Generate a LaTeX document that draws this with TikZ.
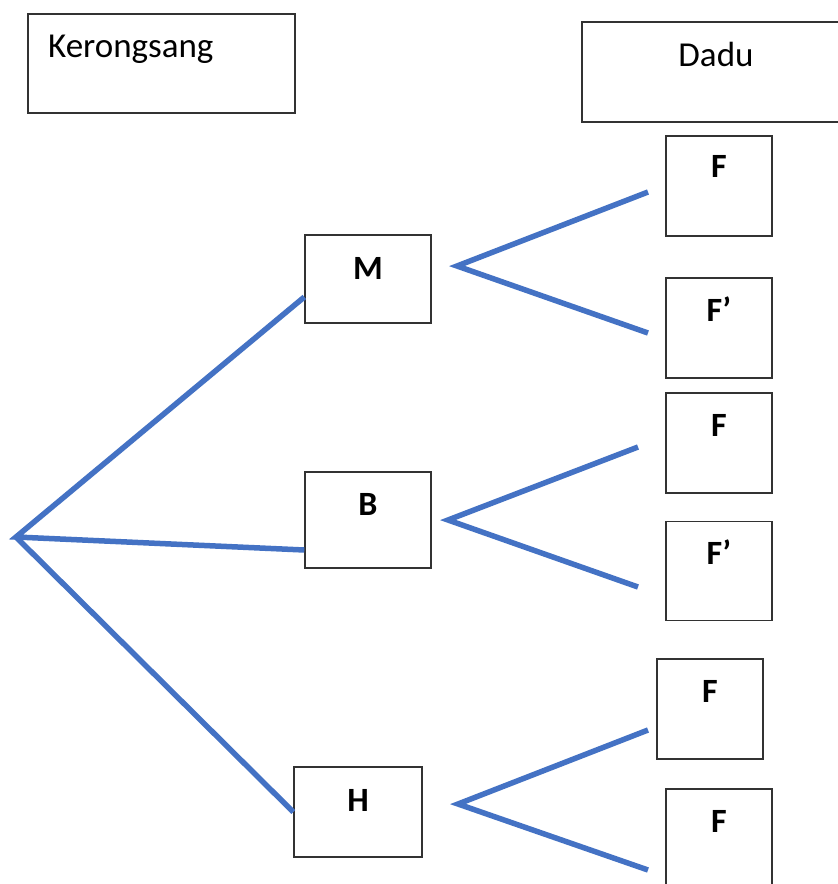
\documentclass[tikz,border=0pt]{standalone}
\usepackage{fontspec}
\setmainfont{Carlito}
\usetikzlibrary{calc}
\definecolor{linkblue}{RGB}{68,114,196}
\definecolor{boxgray}{RGB}{50,50,50}
\tikzset{
  box/.style={draw=boxgray, line width=1.4pt, rectangle, inner sep=0pt},
  lbl/.style={font=\fontsize{34}{40}\selectfont\bfseries, inner sep=0pt, anchor=base},
  head/.style={font=\fontsize{35}{42}\selectfont, inner sep=0pt, anchor=base},
  link/.style={draw=linkblue, line width=5.5pt}
}
\begin{document}
\begin{tikzpicture}[x=1pt,y=-1pt]
\useasboundingbox (0,0) rectangle (838,884);
\clip (0,0) rectangle (838,884);
\fill[white] (0,0) rectangle (838,884);
% header boxes
\node[box, minimum width=267pt, minimum height=99pt] (K) at (161.5,63.5) {};
\node[head, anchor=base west] (Kt) at (48,57) {Kerongsang};
\node[box, minimum width=268pt, minimum height=100pt] (D) at (716,72) {};
\node[head] (Dt) at (716,66) {Dadu};
% level 1 boxes
\node[box, minimum width=126pt, minimum height=88pt] (M) at (368,279) {};
\node[lbl] (Mt) at ($(M.north)+(0,45)$) {M};
\node[box, minimum width=126pt, minimum height=96pt] (B) at (368,520) {};
\node[lbl] (Bt) at ($(B.north)+(0,44)$) {B};
\node[box, minimum width=128pt, minimum height=90pt] (H) at (358,812) {};
\node[lbl] (Ht) at ($(H.north)+(0,45)$) {H};
% level 2 boxes
\node[box, minimum width=106pt, minimum height=100pt] (F1) at (719,186) {};
\node[lbl] (F1t) at ($(F1.north)+(0,42)$) {F};
\node[box, minimum width=106pt, minimum height=100pt] (F2) at (719,328) {};
\node[lbl] (F2t) at ($(F2.north)+(0,44)$) {F’};
\node[box, minimum width=106pt, minimum height=100pt] (F3) at (719,443) {};
\node[lbl] (F3t) at ($(F3.north)+(0,44)$) {F};
\node[box, minimum width=106pt, minimum height=99pt] (F4) at (719,571) {};
\node[lbl] (F4t) at ($(F4.north)+(0,44)$) {F’};
\node[box, minimum width=106pt, minimum height=100pt] (F5) at (710,709) {};
\node[lbl] (F5t) at ($(F5.north)+(0,44)$) {F};
\node[box, minimum width=106pt, minimum height=100pt] (F6) at (719,839) {};
\node[lbl] (F6t) at ($(F6.north)+(0,44)$) {F};
% connector points
\coordinate (root) at (16,537);
\coordinate (mv) at (457,266);
\coordinate (m1) at (648,192);
\coordinate (m2) at (648,333);
\coordinate (bv) at (448,520);
\coordinate (b1) at (638,447);
\coordinate (b2) at (638,587);
\coordinate (hv) at (458,804);
\coordinate (h1) at (648,730);
\coordinate (h2) at (648,870);
% connectors
\draw[link] ($(M.west)+(0,18)$) -- (root) -- ($(B.west)+(0,30)$);
\draw[link] (root) -- (H.west);
\draw[link] (m1) -- (mv) -- (m2);
\draw[link] (b1) -- (bv) -- (b2);
\draw[link] (h1) -- (hv) -- (h2);
\end{tikzpicture}
\end{document}
